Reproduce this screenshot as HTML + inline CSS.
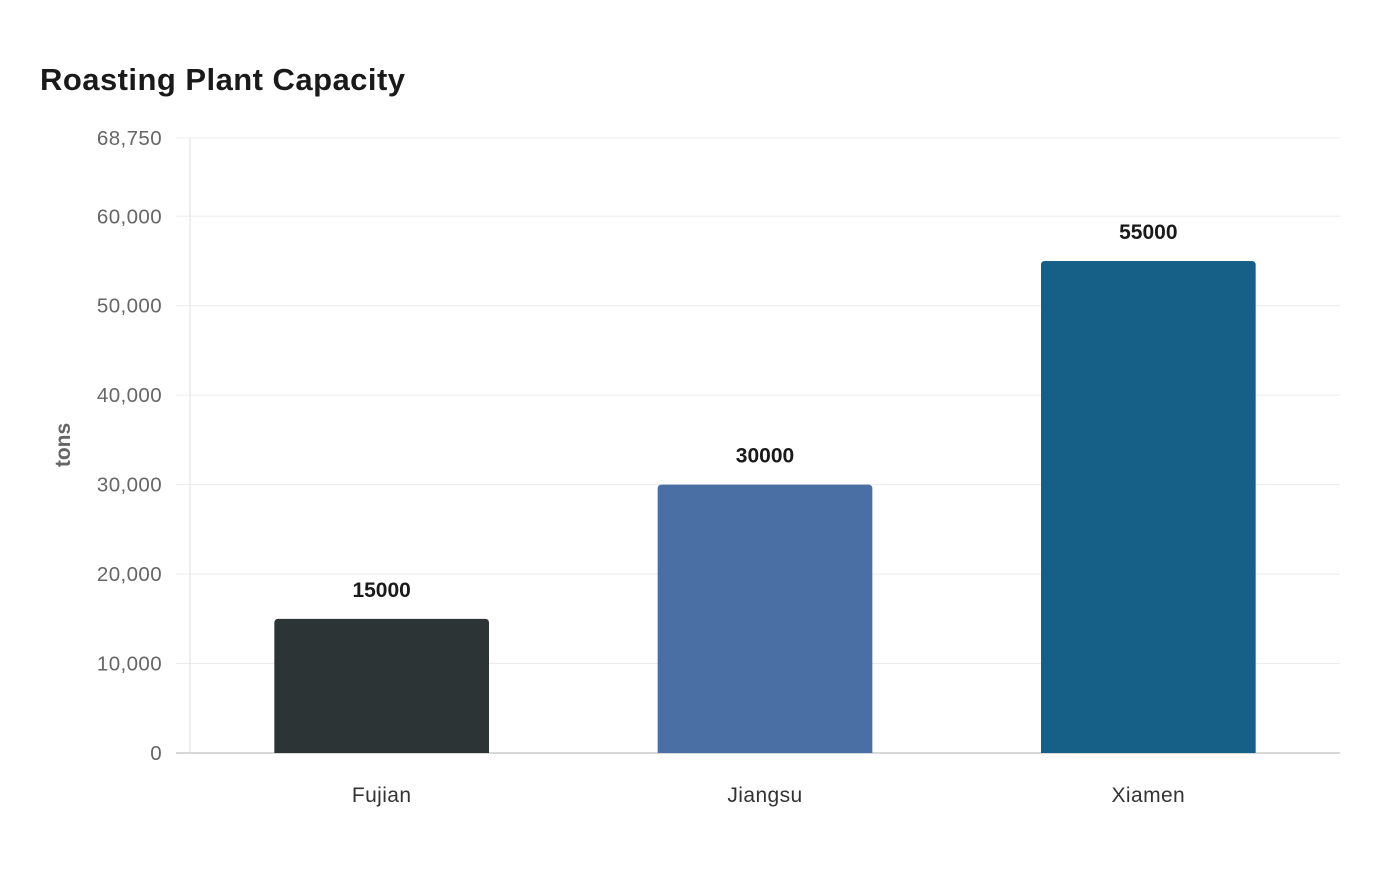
<!DOCTYPE html>
<html><head><meta charset="utf-8"><style>
body{margin:0;background:#fff;font-family:"Liberation Sans",sans-serif}
svg text{font-family:"Liberation Sans",sans-serif}
</style></head><body>
<svg id="chart" width="1400" height="880" xmlns="http://www.w3.org/2000/svg">
<text x="40" y="90" font-size="31" font-weight="bold" fill="#1a1a1a" textLength="365">Roasting Plant Capacity</text>
<text transform="translate(70,445) rotate(-90)" text-anchor="middle" font-size="21" font-weight="bold" fill="#666">tons</text>
<g id="grid"></g><g id="bars"></g><g id="labels"></g>
</svg>
<script>
const categories=["Fujian","Jiangsu","Xiamen"];
const values=[15000,30000,55000];
const yTicks=[0,10000,20000,30000,40000,50000,60000,68750];
const colors=["#2d3436","#4a6fa5","#166088"];
const NS="http://www.w3.org/2000/svg";
const x0=190,x1=1340,yTop=138,yBot=753,yMax=68750;
const y=v=>yBot-(v/yMax)*(yBot-yTop);
const band=(x1-x0)/categories.length;
const bx=i=>x0+band*i+band/2;
function mk(t,a,p){const e=document.createElementNS(NS,t);for(const k in a)e.setAttribute(k,a[k]);p.appendChild(e);return e;}
const grid=document.getElementById('grid');
yTicks.forEach(v=>{
 const l=mk('line',{x1:x0-14,x2:x1,y1:y(v),y2:y(v),stroke:v===0?'#ccc':'#ececec','stroke-width':v===0?1.5:1},grid);
 
 
 const t=mk('text',{x:162,y:y(v)+7,'text-anchor':'end','font-size':20.5,fill:'#666','letter-spacing':'0.4'},grid);
 t.textContent=v.toLocaleString('en-US');
 
 
});
const ax=mk('line',{x1:x0,x2:x0,y1:yTop,y2:yBot,stroke:'#ddd','stroke-width':1},grid);


const bars=document.getElementById('bars'),labs=document.getElementById('labels');
const bw=band*0.56,r=4;
values.forEach((v,i)=>{
 const L=bx(i)-bw/2,R=bx(i)+bw/2,T=y(v),B=yBot;
 const p=mk('path',{d:`M${L},${B}V${T+r}Q${L},${T} ${L+r},${T}H${R-r}Q${R},${T} ${R},${T+r}V${B}Z`,fill:colors[i]},bars);
 
 
 const t=mk('text',{x:bx(i),y:T-22,'text-anchor':'middle','font-size':21,'font-weight':'bold',fill:'#1a1a1a'},labs);
 t.textContent=v;
 
 
 const c=mk('text',{x:bx(i),y:802,'text-anchor':'middle','font-size':21,fill:'#333','letter-spacing':'0.4'},labs);
 c.textContent=categories[i];
 
 
});
</script>
</body></html>
